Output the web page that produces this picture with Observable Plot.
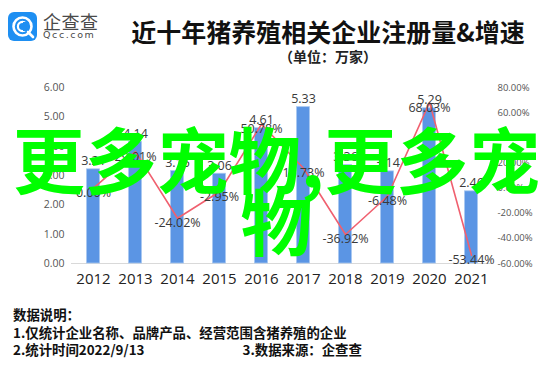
<!DOCTYPE html>
<html>
<head>
<meta charset="utf-8">
<script src="https://cdn.jsdelivr.net/npm/d3@7"></script>
<script src="https://cdn.jsdelivr.net/npm/@observablehq/plot@0.6"></script>
<style>
  html, body { margin: 0; padding: 0; background: #fff; }
  #root { position: relative; width: 553px; height: 369px; overflow: hidden; font-family: "Noto Sans CJK SC", "Noto Sans", sans-serif; }
  .abs { position: absolute; white-space: nowrap; }
  #title { left: 0; width: 656px; top: 14px; text-align: center; font-size: 25px; font-weight: 700; color: #111; line-height: 34px; }
  #subtitle { left: 0; width: 656px; top: 47px; text-align: center; font-size: 14px; font-weight: 700; color: #222; line-height: 18px; }
  #chart { position: absolute; left: 0; top: 70px; }
  #foot { left: 13px; top: 306px; font-size: 13.4px; font-weight: 700; color: #111; line-height: 17.5px; }
  #logoText1 { left: 43px; top: 10px; font-size: 18px; color: #4a4a4a; line-height: 22px; letter-spacing: 0.5px; }
  #logoText2 { left: 43px; top: 29px; font-size: 9.5px; color: #4a4a4a; line-height: 11px; letter-spacing: 1.6px; font-family: "DejaVu Sans", sans-serif; }
  #wm { left: 0; width: 553px; top: 126px; text-align: center; white-space: normal; font-size: 72px; font-weight: 700; color: #00ff00; line-height: 62px; font-family: "Noto Sans CJK SC", sans-serif; }
</style>
</head>
<body>
<div id="root">
  <svg class="abs" style="left:8px;top:12px" width="30" height="30" viewBox="0 0 30 30">
    <rect x="0" y="0" width="29" height="29" rx="6" fill="#1e8ff2"/>
    <circle cx="14.5" cy="14.5" r="9" fill="none" stroke="#fff" stroke-width="2.6"/>
    <circle cx="14.5" cy="14.5" r="4.6" fill="none" stroke="#fff" stroke-width="2.2"/>
    <rect x="15" y="10" width="6" height="9" fill="#1e8ff2"/>
    <line x1="20" y1="20" x2="25" y2="25" stroke="#fff" stroke-width="2.6" stroke-linecap="round"/>
  </svg>
  <div id="logoText1" class="abs">企查查</div>
  <div id="logoText2" class="abs">Qcc.com</div>
  <div id="title" class="abs">近十年猪养殖相关企业注册量&amp;增速</div>
  <div id="subtitle" class="abs">（单位：万家）</div>
  <div id="chart"></div>
  <div id="foot" class="abs">数据说明：<br>1.仅统计企业名称、品牌产品、经营范围含猪养殖的企业<br>2.统计时间2022/9/13<span style="display:inline-block;width:98px"></span>3.数据来源：企查查</div>
  <div id="wm" class="abs">更多宠物,更多宠物</div>
</div>
<script>
const years = ["2012","2013","2014","2015","2016","2017","2018","2019","2020","2021"];
const counts = [3.21, 4.14, 3.15, 3.06, 4.61, 5.33, 3.36, 3.14, 5.29, 2.46];
const rates = [0.00, 29.01, -24.02, -2.95, 50.78, 15.73, -36.92, -6.48, 68.03, -53.44];
const leftTicks = [0, 1, 2, 3, 4, 5, 6];
const rightTicks = [-60, -40, -20, 0, 20, 40, 60, 80];

const leftMax = 6, rMin = -60, rMax = 80;
const toY = r => (r - rMin) / (rMax - rMin) * leftMax;
const fromY = v => v / leftMax * (rMax - rMin) + rMin;

const data = years.map((y, i) => ({year: y, count: counts[i], rate: rates[i]}));

const chart = Plot.plot({
  width: 553,
  height: 215,
  marginTop: 17,
  marginBottom: 22,
  marginLeft: 71,
  marginRight: 61,
  style: {background: "transparent", fontFamily: "'Open Sans', 'Noto Sans', sans-serif", overflow: "visible"},
  x: {type: "band", domain: years, padding: 0},
  y: {domain: [0, leftMax]},
  marks: [
    Plot.ruleY([0], {stroke: "#d9d9d9", strokeWidth: 1}),
    Plot.barY(data, {x: "year", y: "count", fill: "#5b95e4", stroke: "#a8c7f0", strokeWidth: 0.8, insetLeft: 14.5, insetRight: 14.5}),
    Plot.line(data, {x: "year", y: d => toY(d.rate), stroke: "#f0606f", strokeWidth: 1.6}),
    Plot.text(data, {x: "year", y: "count", text: d => d.count.toFixed(2), dy: -8, fontSize: 12.5, fill: "#3a3a3a"}),
    Plot.text(data, {x: "year", y: d => toY(d.rate), text: d => d.rate.toFixed(2) + "%", dy: 5, fontSize: 12.5, fill: "#3a3a3a"}),
    Plot.axisX({tickSize: 0, tickPadding: 10, fontSize: 15, color: "#222", label: null}),
    Plot.axisY({anchor: "left", ticks: leftTicks, tickFormat: d => d.toFixed(2), tickSize: 0, tickPadding: 7, fontSize: 10.5, color: "#555", label: null}),
    Plot.axisY({anchor: "right", ticks: rightTicks.map(toY), tickFormat: v => Math.round(fromY(v)).toFixed(2) + "%", tickSize: 0, tickPadding: 5, fontSize: 9.5, color: "#555", label: null})
  ]
});
document.getElementById("chart").appendChild(chart);
</script>
</body>
</html>
